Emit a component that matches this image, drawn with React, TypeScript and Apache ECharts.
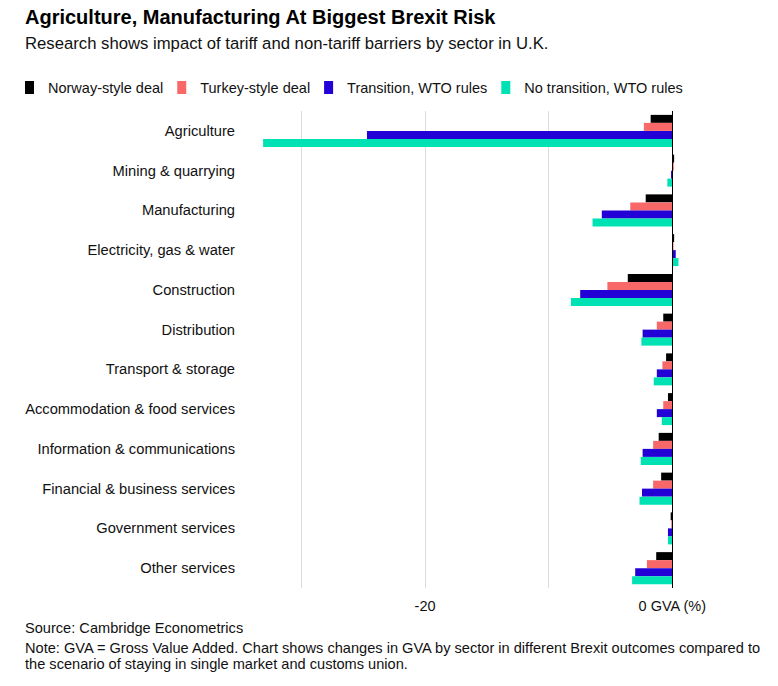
import React, { useEffect, useRef } from "react";
import * as echarts from "echarts";

const categories = [
  "Agriculture",
  "Mining & quarrying",
  "Manufacturing",
  "Electricity, gas & water",
  "Construction",
  "Distribution",
  "Transport & storage",
  "Accommodation & food services",
  "Information & communications",
  "Financial & business services",
  "Government services",
  "Other services",
];

const seriesNames = ["Norway-style deal", "Turkey-style deal", "Transition, WTO rules", "No transition, WTO rules"];

const norway = [-1.75, 0.15, -2.15, 0.15, -3.6, -0.73, -0.5, -0.35, -1.1, -0.9, -0.13, -1.3];
const turkey = [-2.3, 0.12, -3.4, 0.1, -5.25, -1.25, -0.8, -0.73, -1.55, -1.55, -0.08, -2.05];
const transition = [-24.7, -0.1, -5.7, 0.28, -7.45, -2.4, -1.25, -1.25, -2.4, -2.45, -0.35, -3.0];
const noTransition = [-33.1, -0.4, -6.45, 0.5, -8.2, -2.5, -1.5, -0.85, -2.55, -2.65, -0.35, -3.25];

const gridTicks = [-30, -20, -10, 0];
const labelTicks = [-20, 0];

const colors = ["#000000", "#f86868", "#2200d6", "#00e1b4"];

export default function App() {
  const ref = useRef<HTMLDivElement>(null);
  useEffect(() => {
    if (!ref.current) return;
    const chart = echarts.init(ref.current, null, { renderer: "svg" });
    const font = "'Liberation Sans', Arial, Helvetica, sans-serif";
    const values = [norway, turkey, transition, noTransition];
    chart.setOption({
      animation: false,
      textStyle: { fontFamily: font },
      title: [
        {
          text: "Agriculture, Manufacturing At Biggest Brexit Risk",
          left: 25,
          top: 7,
          padding: 0,
          textStyle: {
            fontFamily: "'Liberation Sans Narrow', 'Liberation Sans', Arial, sans-serif",
            fontWeight: "bold",
            fontSize: 20,
            color: "#000",
          },
        },
        {
          text: "Research shows impact of tariff and non-tariff barriers by sector in U.K.",
          left: 25,
          top: 35,
          padding: 0,
          textStyle: { fontFamily: font, fontWeight: "normal", fontSize: 16.7, color: "#111" },
        },
        {
          text: "Source: Cambridge Econometrics",
          left: 25,
          top: 620,
          padding: 0,
          textStyle: { fontFamily: font, fontWeight: "normal", fontSize: 14.6, color: "#111" },
        },
        {
          text:
            "Note: GVA = Gross Value Added. Chart shows changes in GVA by sector in different Brexit outcomes compared to\nthe scenario of staying in single market and customs union.",
          left: 25,
          top: 640,
          padding: 0,
          textStyle: { fontFamily: font, fontWeight: "normal", fontSize: 14.6, color: "#111", lineHeight: 16 },
        },
      ],
      legend: {
        left: 25,
        top: 80,
        padding: 0,
        itemWidth: 9,
        itemHeight: 13,
        itemGap: 14,
        icon: "rect",
        data: seriesNames,
        textStyle: { fontFamily: font, fontSize: 14.5, color: "#111", padding: [0, 0, 0, 9] },
      },
      grid: { left: 252, right: 81, top: 111, bottom: 98, containLabel: false },
      xAxis: {
        type: "value",
        min: -34,
        max: 2,
        axisLine: { show: false },
        axisTick: { show: false, customValues: gridTicks },
        splitLine: { show: true, lineStyle: { color: "#dcdcdc", width: 1 } },
        axisLabel: {
          customValues: labelTicks,
          margin: 10,
          fontSize: 14.5,
          color: "#111",
          formatter: (v: number) => (v === 0 ? "0 GVA (%)" : String(v)),
        },
      },
      yAxis: {
        type: "category",
        data: categories,
        inverse: true,
        axisLine: { show: false },
        axisTick: { show: false },
        splitLine: { show: false },
        axisLabel: { margin: 17, fontSize: 14.7, color: "#111" },
      },
      series: seriesNames.map((name, i) => ({
        name,
        type: "bar",
        data: values[i],
        barWidth: 8,
        barGap: "0%",
        itemStyle: { color: colors[i] },
        markLine:
          i === 0
            ? {
                silent: true,
                symbol: "none",
                label: { show: false },
                lineStyle: { color: "#000", width: 1, type: "solid" },
                data: [{ xAxis: 0 }],
              }
            : undefined,
      })),
    });
    return () => chart.dispose();
  }, []);
  return <div ref={ref} style={{ width: 778, height: 686, margin: -8 }} />;
}
